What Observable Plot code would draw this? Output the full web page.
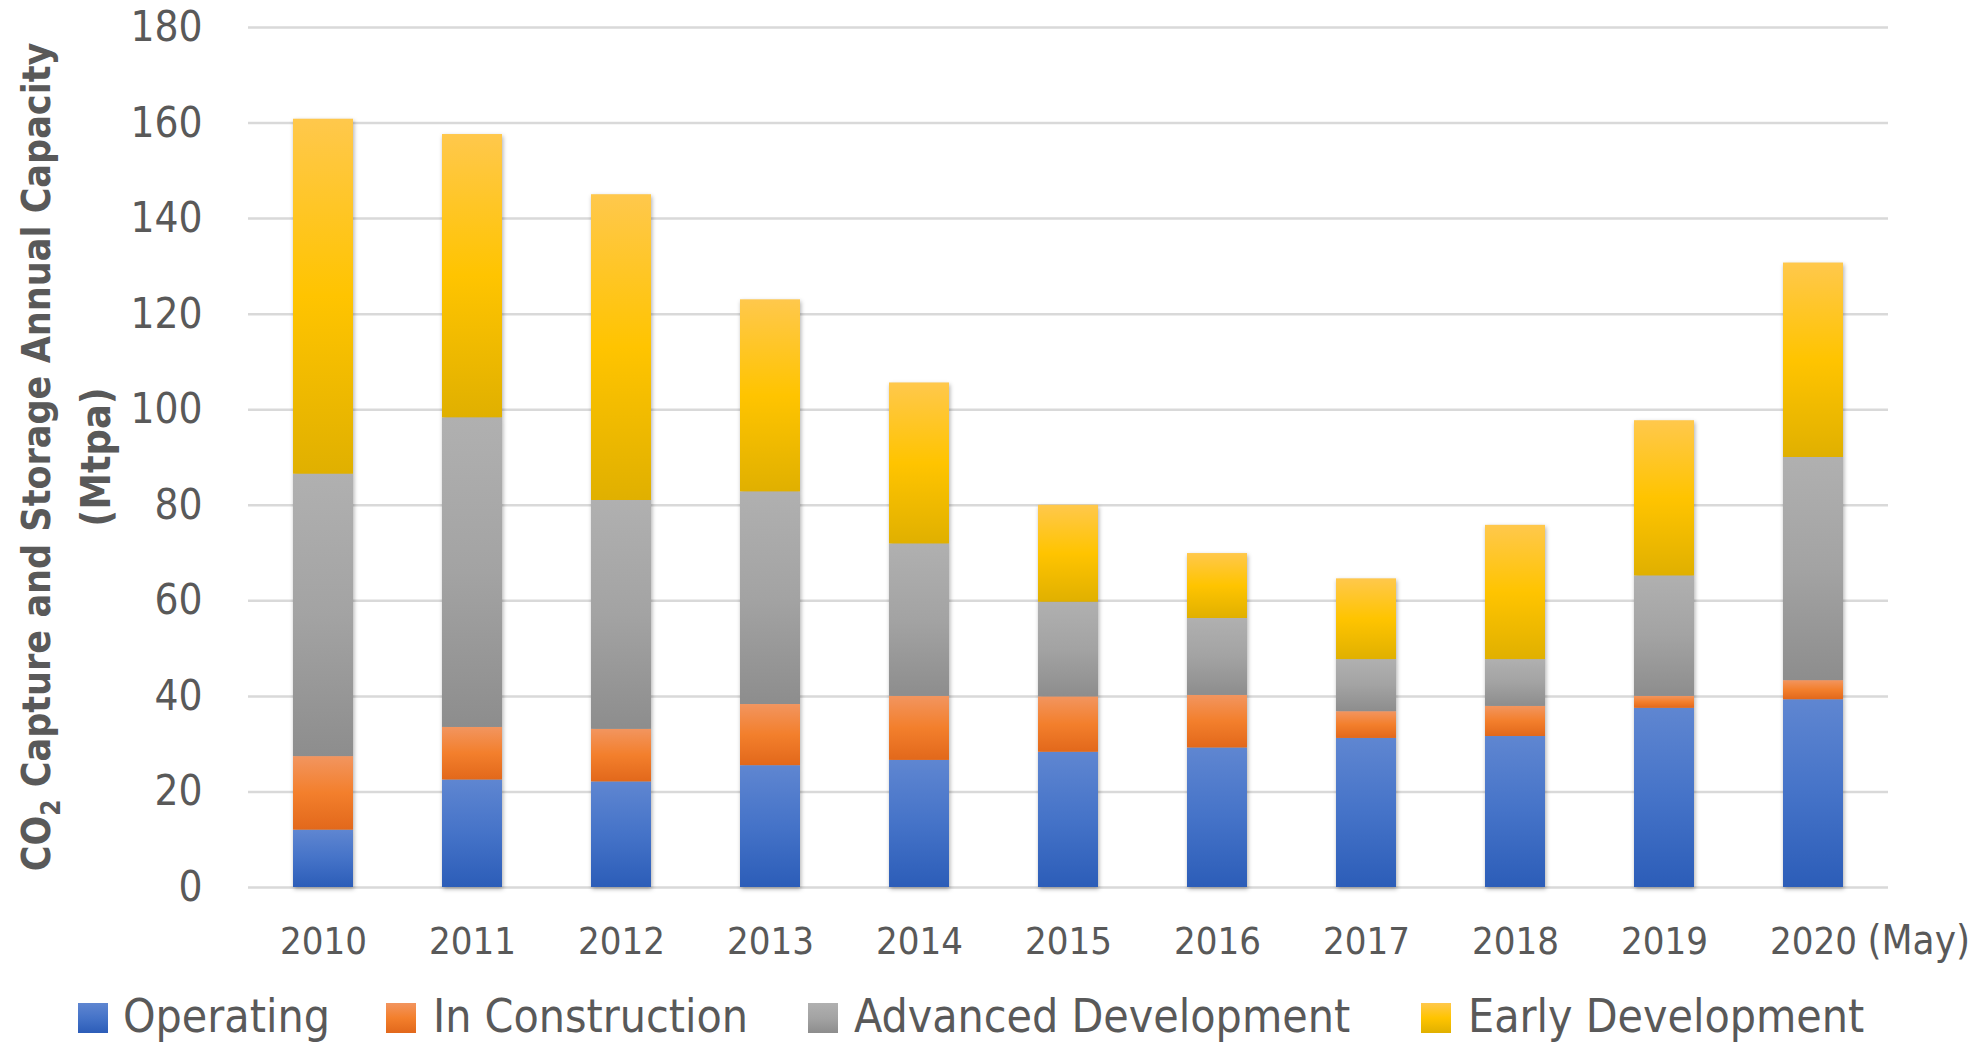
<!DOCTYPE html>
<html>
<head>
<meta charset="utf-8">
<script src="https://cdn.jsdelivr.net/npm/d3@7"></script>
<script src="https://cdn.jsdelivr.net/npm/@observablehq/plot@0.6"></script>
<style>
html, body { margin: 0; padding: 0; background: #ffffff; }
#wrap { width: 1982px; height: 1044px; position: relative; overflow: hidden;
  font-family: "DejaVu Sans Condensed", "DejaVu Sans", sans-serif; font-stretch: condensed; color: #595959; }
#chart svg { display: block; }
#legend { position: relative; width: 1982px; height: 59px; }
.sw { position: absolute; top: 18px; width: 30px; height: 30px; }
.lt { position: absolute; top: 8px; line-height: 46px; font-size: 46px; white-space: nowrap; color: #595959; }
</style>
</head>
<body>
<div id="wrap"><div id="chart"></div><div id="legend"></div></div>
<script>
// ---- data ----
const years = ["2010", "2011", "2012", "2013", "2014", "2015", "2016", "2017", "2018", "2019", "2020"];
const seriesNames = ["Operating", "In Construction", "Advanced Development", "Early Development"];
const operating           = [12.0, 22.5, 22.1, 25.5, 26.6, 28.3, 29.2, 31.2, 31.6, 37.5, 39.3];
const inConstruction      = [15.4, 11.0, 11.0, 12.8, 13.4, 11.6, 11.0,  5.6,  6.3,  2.5,  4.0];
const advancedDevelopment = [59.1, 64.8, 47.9, 44.5, 31.9, 19.8, 16.1, 10.9,  9.8, 25.2, 46.7];
const earlyDevelopment    = [74.3, 59.3, 64.0, 40.2, 33.7, 20.3, 13.6, 16.9, 28.1, 32.5, 40.7];
const yTicks = [0, 20, 40, 60, 80, 100, 120, 140, 160, 180];
const lastYearNote = "(May)";
const yTitleLine1 = ["CO", "2", " Capture and Storage Annual Capacity"];
const yTitleLine2 = "(Mtpa)";

// ---- styling ----
const gradIds = ["g-op", "g-ic", "g-ad", "g-ed"];
const gradStops = [
  ["#5f86d1", "#4573c8", "#2c5db8"],
  ["#f2955f", "#f37f2c", "#e2681b"],
  ["#b0b0b0", "#a3a3a3", "#8d8d8d"],
  ["#ffc84c", "#ffc400", "#e0b000"]
];
const FONT = '"DejaVu Sans Condensed", "DejaVu Sans", sans-serif';

const seriesValues = [operating, inConstruction, advancedDevelopment, earlyDevelopment];
const rows = seriesNames.flatMap((s, i) => years.map((yr, j) => ({year: yr, series: s, value: seriesValues[i][j]})));

const plot = Plot.plot({
  width: 1982,
  height: 985,
  marginLeft: 248,
  marginRight: 94,
  marginTop: 27,
  marginBottom: 98,
  style: {fontFamily: FONT, fontSize: "40px", color: "#595959", background: "transparent", overflow: "visible"},
  x: {domain: years, paddingInner: 0.594, paddingOuter: 0.297, label: null},
  y: {domain: [0, 180], label: null},
  color: {type: "ordinal", domain: seriesNames, range: gradIds.map(id => `url(#${id})`)},
  marks: [
    Plot.ruleY(yTicks, {stroke: "#d9d9d9", strokeWidth: 2.5}),
    Plot.barY(rows, {x: "year", y: "value", fill: "series"}),
    Plot.axisY({ticks: yTicks, tickSize: 0, tickPadding: 46, fontSize: 42, label: null}),
    Plot.axisX({tickSize: 0, tickPadding: 40, fontSize: 38, label: null}),
    Plot.text([years[years.length - 1]], {x: d => d, text: () => lastYearNote, frameAnchor: "bottom",
      dy: 54, dx: 54, textAnchor: "start", lineAnchor: "middle", fontSize: 40, fill: "#595959"})
  ]
});

const svg = d3.select(plot);
svg.style("font-stretch", "condensed");
const defs = svg.insert("defs", ":first-child");
gradIds.forEach((id, i) => {
  const g = defs.append("linearGradient").attr("id", id).attr("x1", 0).attr("y1", 0).attr("x2", 0).attr("y2", 1);
  gradStops[i].forEach((c, k) => g.append("stop").attr("offset", `${k * 50}%`).attr("stop-color", c));
});
svg.selectAll('g[aria-label="bar"]').style("filter", "drop-shadow(1px 2px 2px rgba(0,0,0,0.32))");

// y-axis title (two lines, rotated)
const t1 = svg.append("text").attr("transform", "translate(50,457) rotate(-90)")
  .attr("text-anchor", "middle").attr("font-weight", "bold").attr("font-size", 39).attr("fill", "#595959");
t1.append("tspan").text(yTitleLine1[0]);
t1.append("tspan").attr("dy", 10).attr("font-size", 26).text(yTitleLine1[1]);
t1.append("tspan").attr("dy", -10).text(yTitleLine1[2]);
svg.append("text").attr("transform", "translate(110,457) rotate(-90)")
  .attr("text-anchor", "middle").attr("font-weight", "bold").attr("font-size", 41).attr("fill", "#595959")
  .text(yTitleLine2);

document.getElementById("chart").appendChild(plot);

// legend below the svg
const legendSwatchX = [78, 386, 808, 1421];
const legendTextX = [123, 433, 854, 1468];
const legend = d3.select("#legend");
seriesNames.forEach((s, i) => {
  legend.append("div").attr("class", "sw").style("left", legendSwatchX[i] + "px")
    .style("background", `linear-gradient(to bottom, ${gradStops[i][0]}, ${gradStops[i][1]} 50%, ${gradStops[i][2]})`);
  legend.append("div").attr("class", "lt").style("left", legendTextX[i] + "px").text(s);
});
</script>
</body>
</html>
